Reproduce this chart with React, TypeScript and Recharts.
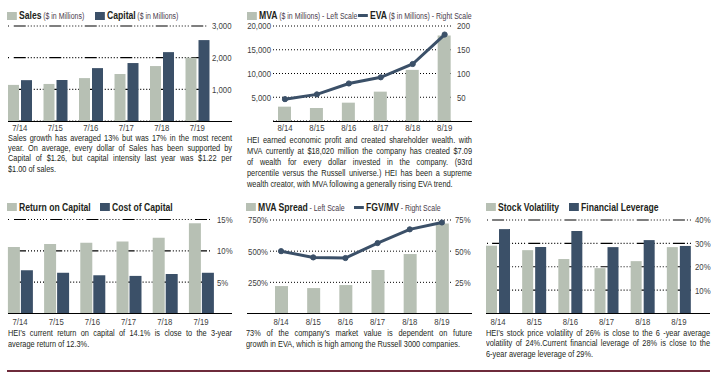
import React from "react";
import { BarChart, Bar, ComposedChart, Line, XAxis, YAxis, CartesianGrid } from "recharts";

const FONT = "'Liberation Sans', Arial, sans-serif";
const NARROW = 0.82;
const GRAY = "#b7c0b4";
const NAVY = "#3b5068";
const INK = "#231f20";
const SUB = "#4a3d4c";
const TICK = "#404040";

// ---- data ----
const fy7 = ["7/14", "7/15", "7/16", "7/17", "7/18", "7/19"];
const fy8 = ["8/14", "8/15", "8/16", "8/17", "8/18", "8/19"];

const sales = [1140, 1170, 1355, 1485, 1735, 2000];
const capital = [1290, 1295, 1670, 1830, 2175, 2555];
const sizeTicks = [1000, 2000, 3000];

const mva = [3020, 2740, 3860, 6180, 10760, 18020];
const eva = [46, 56, 79, 92, 120, 182];
const mvaTicks = [5000, 10000, 15000, 20000];
const evaTicks = [50, 100, 150, 200];

const roc = [10.6, 11.1, 11.3, 11.5, 12.1, 14.4];
const coc = [6.9, 6.5, 6.1, 6.0, 6.3, 6.5];
const rateTicks = [5, 10, 15];

const mvaSpread = [220, 204, 228, 349, 477, 722];
const fgvMv = [50, 45, 44.5, 56.5, 67.5, 73];
const spreadTicks = [250, 500, 750];
const fgvTicks = [25, 50, 75];

const volatility = [29, 27.1, 23.3, 19.4, 22.4, 28.4];
const leverage = [36.1, 28.4, 35.3, 28.4, 31.4, 28.9];
const riskTicks = [10, 20, 30, 40];

const text1 = [
  "Sales growth has averaged 13% but was 17% in the most recent",
  "year. On average, every dollar of Sales has been supported by",
  "Capital of $1.26, but capital intensity last year was $1.22 per",
  "$1.00 of sales.",
];
const text2 = [
  "HEI earned economic profit and created shareholder wealth. with",
  "MVA currently at $18,020 million the company has created $7.09",
  "of wealth for every dollar invested in the company. (93rd",
  "percentile versus the Russell universe.) HEI has been a supreme",
  "wealth creator, with MVA following a generally rising EVA trend.",
];
const text3 = [
  "HEI\u2019s current return on capital of 14.1% is close to the 3-year",
  "average return of 12.3%.",
];
const text4 = [
  "73% of the company\u2019s market value is dependent on future",
  "growth in EVA, which is high among the Russell 3000 companies.",
];
const text5 = [
  "HEI\u2019s stock price volatility of 26%  is close to the 6 -year average",
  "volatility of 24%.Current financial leverage of 28% is close to the",
  "6-year average leverage of 29%.",
];

const salesRows = fy7.map((d, i) => ({ d, sales: sales[i], capital: capital[i] }));
const mvaRows = fy8.map((d, i) => ({ d, mva: mva[i], eva: eva[i] }));
const rocRows = fy7.map((d, i) => ({ d, roc: roc[i], coc: coc[i] }));
const spreadRows = fy8.map((d, i) => ({ d, spread: mvaSpread[i], fgv: fgvMv[i] }));
const riskRows = fy8.map((d, i) => ({ d, vol: volatility[i], lev: leverage[i] }));

// dotted grid with a short solid dash under every category
function gridDash(length: number, lead: number, period: number, solid: number) {
  const out: number[] = [];
  let pos = 0;
  let next = lead;
  while (pos < length) {
    if (next - pos >= 3) {
      out.push(1, 2);
      pos += 3;
    } else {
      const rest = Math.max(0, next - pos);
      if (out.length) out[out.length - 1] += rest;
      else out.push(0, rest);
      out.push(solid, 2);
      pos = next + solid + 2;
      next += period;
    }
  }
  return out.join(" ");
}

function barDash(plotW: number, padL: number, padR: number) {
  const band = (plotW - padL - padR) / 6;
  return gridDash(plotW, padL + band / 2 - 6, band, 12);
}

const comma = (v: number) => v.toLocaleString("en-US");
const pct = (v: number) => `${v}%`;
const plain = (v: any) => String(v);

// narrow (Arial Narrow-like) tick text
function narrowTick(fmt: (v: any) => string, dy: string) {
  return (p: any) => (
    <text
      transform={`translate(${p.x},${p.y}) scale(${NARROW},1)`}
      textAnchor={p.textAnchor}
      dy={dy}
      fontSize={9.5}
      fill={TICK}
      fontFamily={FONT}
    >
      {fmt(p.payload.value)}
    </text>
  );
}

type Item = { x: number; kind: "box" | "line"; color: string; label: string; sub?: string };

function Legend({ top, items }: { top: number; items: Item[] }) {
  return (
    <>
      {items.map((it, i) => (
        <div
          key={i}
          style={{
            position: "absolute",
            left: it.x,
            top,
            height: 13,
            display: "flex",
            alignItems: "baseline",
            whiteSpace: "nowrap",
            transform: `scaleX(${NARROW})`,
            transformOrigin: "0 0",
          }}
        >
          <span
            style={{
              alignSelf: "center",
              width: 10 / NARROW,
              height: it.kind === "box" ? 8 : 3,
              background: it.color,
              marginRight: 2 / NARROW,
            }}
          />
          <span style={{ fontWeight: 700, fontSize: 10.5, color: INK }}>{it.label}</span>
          {it.sub && <span style={{ fontSize: 8.5, color: SUB, marginLeft: 2 }}>{it.sub}</span>}
        </div>
      ))}
    </>
  );
}

function Para({ left, top, width, lines, lh }: { left: number; top: number; width: number; lines: string[]; lh: number }) {
  return (
    <div
      style={{
        position: "absolute",
        left,
        top,
        width: width / NARROW,
        transform: `scaleX(${NARROW})`,
        transformOrigin: "0 0",
        fontSize: 9,
        lineHeight: `${lh}px`,
        color: INK,
      }}
    >
      {lines.map((l, i) => (
        <div
          key={i}
          style={{
            whiteSpace: "nowrap",
            textAlign: "justify",
            textAlignLast: i < lines.length - 1 ? "justify" : "left",
          }}
        >
          {l}
        </div>
      ))}
    </div>
  );
}

function Rule({ left, top, width, color = "#000", h = 1.2 }: { left: number; top: number; width: number; color?: string; h?: number }) {
  return <div style={{ position: "absolute", left, top, width, height: h, background: color }} />;
}

const dotted = "1 2";
const xTick = narrowTick(plain, "0.71em");

export default function App() {
  return (
    <div style={{ position: "absolute", left: 0, top: 0, width: 722, height: 375, fontFamily: FONT, background: "#fff" }}>
      {/* Sales / Capital */}
      <Legend
        top={9}
        items={[
          { x: 7, kind: "box", color: GRAY, label: "Sales", sub: "($ in Millions)" },
          { x: 95, kind: "box", color: NAVY, label: "Capital", sub: "($ in Millions)" },
        ]}
      />
      <div style={{ position: "absolute", left: 0, top: 0 }}>
        <BarChart width={237} height={133} data={salesRows} margin={{ top: 26, left: 8, right: 0, bottom: 0 }} barGap={2}>
          <CartesianGrid vertical={false} stroke="#000" strokeWidth={1.1} strokeDasharray={barDash(199, -6, -8)} />
          <XAxis dataKey="d" height={12} padding={{ left: -6, right: -8 }} axisLine={false} tickLine={false} tickSize={0} tickMargin={3.5} tick={xTick} interval={0} />
          <YAxis orientation="right" width={30} domain={[0, 3000]} ticks={sizeTicks} axisLine={false} tickLine={false} tickSize={0} tickMargin={5} tick={narrowTick(comma, "0.355em")} />
          <Bar dataKey="sales" fill={GRAY} barSize={11} isAnimationActive={false} />
          <Bar dataKey="capital" fill={NAVY} barSize={11} isAnimationActive={false} />
        </BarChart>
      </div>
      <Rule left={8} top={120.5} width={224} />
      <Para left={8} top={133} width={224} lines={text1} lh={10.2} />

      {/* MVA / EVA */}
      <Legend
        top={9}
        items={[
          { x: 247, kind: "box", color: GRAY, label: "MVA", sub: "($ in Millions) - Left Scale" },
          { x: 358, kind: "line", color: NAVY, label: "EVA", sub: "($ in Millions) - Right Scale" },
        ]}
      />
      <div style={{ position: "absolute", left: 240, top: 0 }}>
        <ComposedChart width={238} height={133} data={mvaRows} margin={{ top: 26, left: 0, right: 0, bottom: 0 }}>
          <CartesianGrid vertical={false} yAxisId="l" stroke="#000" strokeDasharray={dotted} />
          <XAxis dataKey="d" height={12} padding={{ left: -4, right: -7.6 }} axisLine={false} tickLine={false} tickSize={0} tickMargin={3.5} tick={xTick} interval={0} />
          <YAxis yAxisId="l" width={33} domain={[0, 20000]} ticks={mvaTicks} axisLine={false} tickLine={false} tickSize={0} tickMargin={2} tick={narrowTick(comma, "0.355em")} />
          <YAxis yAxisId="r" orientation="right" width={25} domain={[0, 200]} ticks={evaTicks} axisLine={false} tickLine={false} tickSize={0} tickMargin={4} tick={narrowTick(plain, "0.355em")} />
          <Bar yAxisId="l" dataKey="mva" fill={GRAY} barSize={13} isAnimationActive={false} />
          <Line yAxisId="r" dataKey="eva" stroke={NAVY} strokeWidth={3} dot={{ r: 2.6, fill: NAVY, stroke: NAVY, strokeWidth: 1 }} isAnimationActive={false} />
        </ComposedChart>
      </div>
      <Rule left={273} top={120.5} width={199} />
      <Para left={247} top={134.5} width={225} lines={text2} lh={11} />

      {/* Return on Capital / Cost of Capital */}
      <Legend
        top={200.5}
        items={[
          { x: 7, kind: "box", color: GRAY, label: "Return on Capital" },
          { x: 100, kind: "box", color: NAVY, label: "Cost of Capital" },
        ]}
      />
      <div style={{ position: "absolute", left: 0, top: 190 }}>
        <BarChart width={240} height={135.5} data={rocRows} margin={{ top: 29.5, left: 8, right: 0, bottom: 0 }} barGap={1}>
          <CartesianGrid vertical={false} stroke="#000" strokeWidth={1.1} strokeDasharray={barDash(204, -6.1, -7.1)} />
          <XAxis dataKey="d" height={12} padding={{ left: -6.1, right: -7.1 }} axisLine={false} tickLine={false} tickSize={0} tickMargin={4.5} tick={xTick} interval={0} />
          <YAxis orientation="right" width={28} domain={[0, 15]} ticks={rateTicks} axisLine={false} tickLine={false} tickSize={0} tickMargin={5} tick={narrowTick(pct, "0.355em")} />
          <Bar dataKey="roc" fill={GRAY} barSize={12} isAnimationActive={false} />
          <Bar dataKey="coc" fill={NAVY} barSize={12} isAnimationActive={false} />
        </BarChart>
      </div>
      <Rule left={8} top={313} width={224} />
      <Para left={8} top={328} width={224} lines={text3} lh={10.6} />

      {/* MVA Spread / FGV/MV */}
      <Legend
        top={200.5}
        items={[
          { x: 246, kind: "box", color: GRAY, label: "MVA Spread", sub: "- Left Scale" },
          { x: 354, kind: "line", color: NAVY, label: "FGV/MV", sub: "- Right Scale" },
        ]}
      />
      <div style={{ position: "absolute", left: 240, top: 190 }}>
        <ComposedChart width={238} height={135.5} data={spreadRows} margin={{ top: 30, left: 0, right: 0, bottom: 0 }}>
          <CartesianGrid vertical={false} yAxisId="l" stroke="#000" strokeDasharray={dotted} />
          <XAxis dataKey="d" height={12} padding={{ left: -5, right: -5 }} axisLine={false} tickLine={false} tickSize={0} tickMargin={4.5} tick={xTick} interval={0} />
          <YAxis yAxisId="l" width={30} domain={[0, 750]} ticks={spreadTicks} axisLine={false} tickLine={false} tickSize={0} tickMargin={2} tick={narrowTick(pct, "0.355em")} />
          <YAxis yAxisId="r" orientation="right" width={25} domain={[0, 75]} ticks={fgvTicks} axisLine={false} tickLine={false} tickSize={0} tickMargin={2} tick={narrowTick(pct, "0.355em")} />
          <Bar yAxisId="l" dataKey="spread" fill={GRAY} barSize={13} isAnimationActive={false} />
          <Line yAxisId="r" dataKey="fgv" stroke={NAVY} strokeWidth={3} dot={{ r: 2.6, fill: NAVY, stroke: NAVY, strokeWidth: 1 }} isAnimationActive={false} />
        </ComposedChart>
      </div>
      <Rule left={247} top={313} width={225} />
      <Para left={246} top={328} width={226} lines={text4} lh={10.6} />

      {/* Stock Volatility / Financial Leverage */}
      <Legend
        top={200.5}
        items={[
          { x: 486, kind: "box", color: GRAY, label: "Stock Volatility" },
          { x: 569, kind: "box", color: NAVY, label: "Financial Leverage" },
        ]}
      />
      <div style={{ position: "absolute", left: 480, top: 190 }}>
        <BarChart width={237} height={135.5} data={riskRows} margin={{ top: 30, left: 7, right: 0, bottom: 0 }} barGap={2}>
          <CartesianGrid vertical={false} stroke="#000" strokeWidth={1.1} strokeDasharray={barDash(205, -7, -5)} />
          <XAxis dataKey="d" height={12} padding={{ left: -7, right: -5 }} axisLine={false} tickLine={false} tickSize={0} tickMargin={4.5} tick={xTick} interval={0} />
          <YAxis orientation="right" width={25} domain={[0, 40]} ticks={riskTicks} axisLine={false} tickLine={false} tickSize={0} tickMargin={3} tick={narrowTick(pct, "0.355em")} />
          <Bar dataKey="vol" fill={GRAY} barSize={11} isAnimationActive={false} />
          <Bar dataKey="lev" fill={NAVY} barSize={11} isAnimationActive={false} />
        </BarChart>
      </div>
      <Rule left={486} top={313} width={224} />
      <Para left={486} top={328} width={224} lines={text5} lh={10.4} />

      <Rule left={7} top={370} width={703} color="#6e2b3b" h={1.5} />
    </div>
  );
}
